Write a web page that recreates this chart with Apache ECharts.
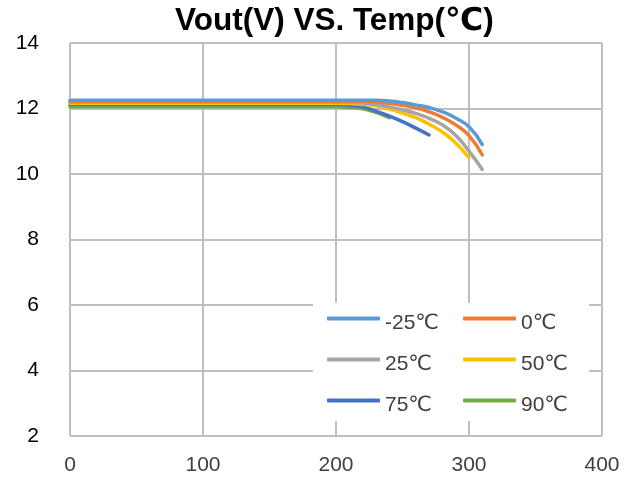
<!DOCTYPE html>
<html><head><meta charset="utf-8">
<script src="https://cdn.jsdelivr.net/npm/echarts@6/dist/echarts.min.js"></script>
<style>html,body{margin:0;padding:0;background:#fff}#c{width:632px;height:480px}</style>
</head><body><div id="c"></div>
<script>
const title = 'Vout(V) VS. Temp(℃)';
const seriesNames = ['-25℃', '0℃', '25℃', '50℃', '75℃', '90℃'];
const colors = ['#5B9BD5', '#ED7D31', '#A5A5A5', '#FFC000', '#4472C4', '#70AD47'];
const xM25 = [0, 100, 200, 230, 240, 250, 260, 270, 280, 290, 300, 310];
const yM25 = [12.25, 12.25, 12.25, 12.25, 12.23, 12.18, 12.11, 12.03, 11.90, 11.71, 11.44, 10.90];
const x0 = [0, 100, 200, 220, 230, 240, 250, 260, 270, 280, 290, 300, 310];
const y0 = [12.22, 12.22, 12.22, 12.22, 12.20, 12.16, 12.10, 12.02, 11.90, 11.73, 11.50, 11.17, 10.58];
const x25 = [0, 100, 200, 210, 220, 230, 240, 250, 260, 270, 280, 290, 300, 310];
const y25 = [12.19, 12.19, 12.19, 12.19, 12.17, 12.12, 12.05, 11.96, 11.85, 11.70, 11.50, 11.18, 10.70, 10.14];
const x50 = [0, 100, 200, 210, 220, 230, 240, 250, 260, 270, 280, 290, 300];
const y50 = [12.16, 12.16, 12.16, 12.15, 12.13, 12.08, 11.98, 11.86, 11.72, 11.52, 11.28, 10.95, 10.50];
const x75 = [0, 100, 200, 210, 220, 230, 240, 250, 260, 270];
const y75 = [12.12, 12.12, 12.12, 12.10, 12.05, 11.92, 11.77, 11.60, 11.40, 11.19];
const x90 = [0, 100, 200, 210, 220, 230, 240];
const y90 = [12.05, 12.05, 12.05, 12.03, 11.99, 11.88, 11.72];
const xTicks = [0, 100, 200, 300, 400];
const yTicks = [2, 4, 6, 8, 10, 12, 14];

const xsAll = [xM25, x0, x25, x50, x75, x90];
const ysAll = [yM25, y0, y25, y50, y75, y90];

const chart = echarts.init(document.getElementById('c'), null, {renderer: 'canvas'});
const font = '"Liberation Sans", Arial, "DejaVu Sans", sans-serif';
chart.setOption({
  animation: false,
  backgroundColor: '#fff',
  title: {
    text: title, left: 170, top: 0,
    textStyle: {fontFamily: font, fontSize: 31.5, fontWeight: 'bold', color: '#000'}
  },
  grid: {left: 70, right: 30, top: 43, bottom: 44, containLabel: false},
  xAxis: {
    type: 'value', min: xTicks[0], max: xTicks[xTicks.length - 1], interval: 100,
    axisLine: {show: false}, axisTick: {show: false},
    axisLabel: {margin: 19, fontFamily: font, fontSize: 21, color: '#404040'},
    splitLine: {show: true, lineStyle: {color: '#BFBFBF', width: 2}}
  },
  yAxis: {
    type: 'value', min: yTicks[0], max: yTicks[yTicks.length - 1], interval: 2,
    axisLine: {show: false}, axisTick: {show: false},
    axisLabel: {margin: 31, fontFamily: font, fontSize: 21, color: '#000'},
    splitLine: {show: true, lineStyle: {color: '#BFBFBF', width: 2}}
  },
  legend: {
    data: seriesNames,
    left: 313, top: 303, width: 263,
    orient: 'horizontal',
    backgroundColor: '#fff',
    padding: [0, 0, 5, 14],
    itemGap: 10,
    itemWidth: 53, itemHeight: 4,
    icon: 'roundRect',
    formatter: '{a|{name}}',
    textStyle: {
      fontFamily: font, fontSize: 21, color: '#404040',
      rich: {a: {fontFamily: font, fontSize: 21, color: '#404040', width: 68, lineHeight: 20, padding: [10, 0, 0, 0]}}
    }
  },
  series: seriesNames.map((n, i) => ({
    name: n, type: 'line', smooth: true, showSymbol: false, symbol: 'none',
    color: colors[i],
    lineStyle: {width: 3.5, color: colors[i], cap: 'round'},
    data: xsAll[i].map((x, j) => [x, ysAll[i][j]]),
    z: 10 - i
  }))
});
</script></body></html>
